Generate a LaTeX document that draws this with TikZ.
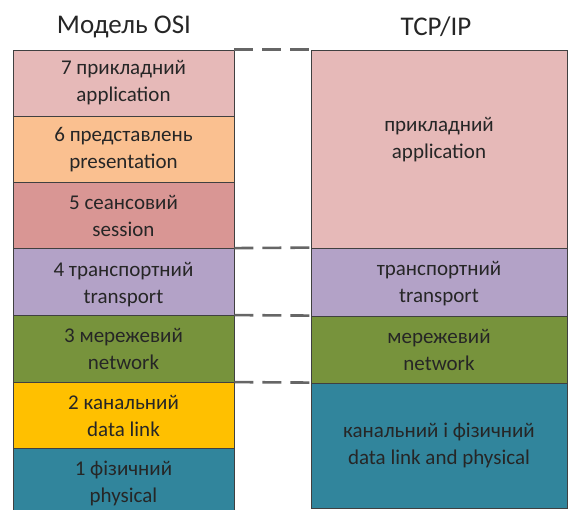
\documentclass[tikz,border=0pt]{standalone}
\usepackage{fontspec}
\setmainfont{Carlito}
\begin{document}
\begin{tikzpicture}[x=1pt,y=-1pt,
  layer/.style={draw=black!75,line width=0.8pt,align=center,inner sep=0pt,
    font=\fontsize{21}{27}\selectfont,text=black!85},
  txt/.style={align=center,inner sep=0pt,font=\fontsize{21}{27}\selectfont,text=black!85},
  title/.style={font=\fontsize{27}{30}\selectfont,text=black!85,inner sep=0pt},
  sep/.style={draw=black!60,line width=2.6pt,dash pattern=on 19pt off 9pt}]
\useasboundingbox (0,0) rectangle (568,510);
\definecolor{capp}{HTML}{E6B9B8}
\definecolor{cpres}{HTML}{FAC090}
\definecolor{csess}{HTML}{D99694}
\definecolor{ctrans}{HTML}{B3A2C7}
\definecolor{cnet}{HTML}{77933C}
\definecolor{cdl}{HTML}{FFC000}
\definecolor{cphy}{HTML}{31859C}
% titles
\node[title] (t1) at (124,27) {Модель OSI};
\node[title] (t2) at (436,27) {TCP/IP};
% OSI column
\node[layer,fill=capp,minimum width=221,minimum height=66] (o7) at (123.5,83) {7 прикладний\\application};
\node[layer,fill=cpres,minimum width=221,minimum height=66] (o6) at (123.5,149.5) {6 представлень\\presentation};
\node[layer,fill=csess,minimum width=221,minimum height=66] (o5) at (123.5,215.5) {5 сеансовий\\session};
\node[layer,fill=ctrans,minimum width=221,minimum height=67] (o4) at (123.5,282) {};
\node[txt] (o4t) at ([yshift=-2.5pt]o4.center) {4 транспортний\\transport};
\node[layer,fill=cnet,minimum width=221,minimum height=67] (o3) at (123.5,349) {3 мережевий\\network};
\node[layer,fill=cdl,minimum width=221,minimum height=66] (o2) at (123.5,415.5) {2 канальний\\data link};
\node[layer,fill=cphy,minimum width=221,minimum height=70] (o1) at (123.5,483.5) {1 фізичний\\physical};
% TCP/IP column
\node[layer,fill=capp,minimum width=256,minimum height=198] (a) at (439,149) {};
\node[txt] (at) at ([yshift=9pt]a.center) {прикладний\\application};
\node[layer,fill=ctrans,minimum width=256,minimum height=68] (t) at (439,282) {};
\node[txt] (tt) at ([yshift=-2pt]t.center) {транспортний\\transport};
\node[layer,fill=cnet,minimum width=256,minimum height=67] (n) at (439,349.5) {мережевий\\network};
\node[layer,fill=cphy,minimum width=256,minimum height=125] (d) at (439,445.5) {канальний і фізичний\\data link and physical};
% separators
\draw[sep] (o7.north east) -- (a.north west);
\draw[sep] (o4.north east) -- (t.north west);
\draw[sep] (o3.north east) -- (n.north west);
\draw[sep] (o2.north east) -- (d.north west);
\end{tikzpicture}
\end{document}
